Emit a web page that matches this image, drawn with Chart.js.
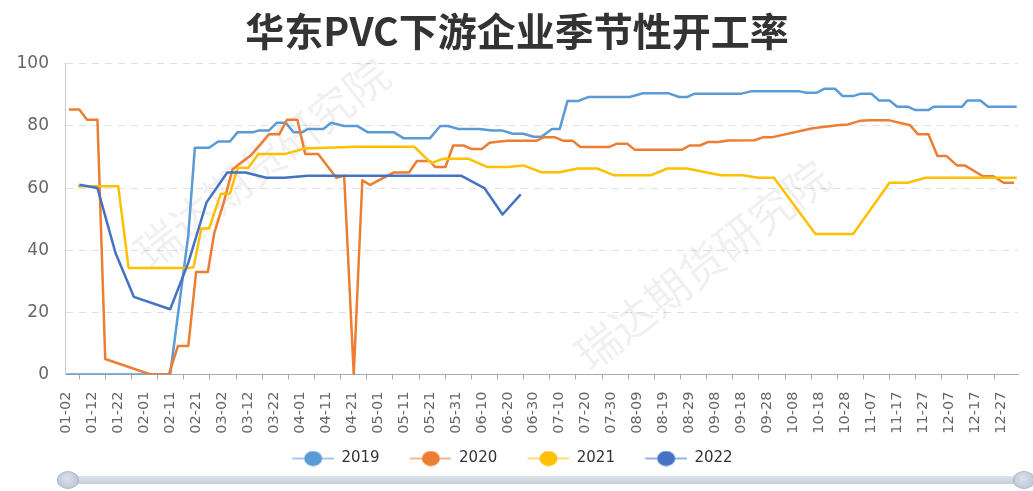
<!DOCTYPE html>
<html>
<head>
<meta charset="utf-8">
<title>华东PVC下游企业季节性开工率</title>
<script src="https://cdn.jsdelivr.net/npm/chart.js@4.4.0/dist/chart.umd.min.js"></script>
<style>
  body { margin: 0; background: #fff; }
  #wrap { position: relative; width: 1033px; height: 491px; }
  .bar { position: absolute; left: 70px; top: 476px; width: 955px; height: 8px; border-radius: 4px; background: linear-gradient(#dfe4ec, #c5cedb); }
  .handle { position: absolute; top: 471px; width: 22px; height: 18px; border-radius: 50%; box-sizing: border-box;
            background: radial-gradient(circle at 45% 40%, #dbe1ea, #b4bfcf); border: 1px solid #a9b5c6; }
</style>
</head>
<body>
<div id="wrap">
  <canvas id="pvcChart" width="1033" height="491"></canvas>
  <div class="bar"></div>
  <div class="handle" style="left:57px"></div>
  <div class="handle" style="left:1013px"></div>
</div>
<script>
// x values are day offsets counted from 01-02 (one label every 10 days)
const tickLabels = ['01-02', '01-12', '01-22', '02-01', '02-11', '02-21', '03-02', '03-12', '03-22',
    '04-01', '04-11', '04-21', '05-01', '05-11', '05-21', '05-31', '06-10', '06-20', '06-30',
    '07-10', '07-20', '07-30', '08-09', '08-19', '08-29', '09-08', '09-18', '09-28', '10-08',
    '10-18', '10-28', '11-07', '11-17', '11-27', '12-07', '12-17', '12-27'];

const days2019 = [0, 40, 47, 49.5, 55, 58.5, 63, 66, 72, 74, 78, 81, 84.5, 87.5, 91, 93, 99, 102, 107, 112,
    116, 126, 130, 140, 144, 147, 151, 159, 164, 168, 172, 176, 180, 183, 187, 190, 193, 197, 201, 217,
    222, 232, 236, 239, 242, 260, 264, 282, 285, 289, 292, 296, 299, 303, 306, 310, 313, 317, 320, 324,
    327, 332, 334, 345, 347, 352, 355, 366];
const rate2019 = [0, 0, 45, 73, 73, 75, 75, 78, 78, 78.5, 78.5, 81, 81, 78, 78, 79, 79, 81, 80, 80,
    78, 78, 76, 76, 80, 80, 79, 79, 78.5, 78.5, 77.5, 77.5, 76.5, 76.5, 79, 79, 88, 88, 89.3, 89.3,
    90.5, 90.5, 89.3, 89.3, 90.4, 90.4, 91.2, 91.2, 90.7, 90.7, 92, 92, 89.6, 89.6, 90.4, 90.4, 88.2, 88.2, 86.2, 86.2,
    85.1, 85.1, 86.2, 86.2, 88.2, 88.2, 86.2, 86.2];

const days2020 = [1, 5, 8, 12, 15, 32.5, 39.5, 43, 47, 50, 54.5, 57, 60.5, 64, 67, 71, 75, 78, 82, 85,
    89, 92, 97, 104, 107, 110.7, 114, 117, 126, 132, 135, 140, 142, 146, 149, 153, 156, 160, 163, 167,
    170, 181, 184, 188, 191.5, 195, 198, 209, 212, 216, 219, 237, 240, 244, 247, 251, 255, 265, 268.5, 272,
    287, 289, 297, 301, 306, 309, 317, 325, 328, 332, 335.5, 339, 343, 346, 353, 357, 361, 365];
const rate2020 = [85.3, 85.3, 82, 82, 5, 0, 0, 9.2, 9.2, 33, 33, 45.6, 55, 66, 68, 70.5, 74.3, 77.3, 77.3, 82,
    82, 71, 71, 63.3, 64, 0, 62.5, 61, 65, 65, 68.7, 68.7, 66.8, 66.8, 73.7, 73.7, 72.6, 72.6, 74.6, 75,
    75.2, 75.2, 76.4, 76.4, 75.2, 75.2, 73.2, 73.2, 74.3, 74.3, 72.3, 72.3, 73.7, 73.7, 74.8, 74.8, 75.3, 75.4, 76.4, 76.4,
    79.2, 79.4, 80.2, 80.5, 81.7, 81.8, 81.8, 80.2, 77.3, 77.3, 70.3, 70.3, 67.3, 67.3, 63.8, 63.8, 61.7, 61.7];

const days2021 = [4.5, 20, 24, 47, 49, 52, 55, 59.5, 63, 66, 70, 74, 84.5, 91.5, 112, 134, 140.5, 145, 155, 162,
    170, 176, 183, 190, 197, 204.5, 211, 225, 231.5, 239, 252, 260.5, 266.5, 272.5, 288.5, 303, 317, 324, 331, 366];
const rate2021 = [60.6, 60.6, 34.3, 34.3, 34.5, 47, 47, 58.2, 58.2, 66.5, 66.5, 71, 71, 72.7, 73.3, 73.3, 68, 69.4, 69.4, 66.8,
    66.8, 67.3, 65.1, 65.1, 66.3, 66.3, 64.1, 64.1, 66.3, 66.3, 64.1, 64.1, 63.3, 63.3, 45.2, 45.2, 61.7, 61.7, 63.3, 63.3];

const days2022 = [5, 12, 19, 26, 40, 47, 54, 62, 69, 77, 84, 93, 152, 161, 168, 175];
const rate2022 = [61.1, 60, 39, 25, 21, 36, 55.4, 65, 65, 63.3, 63.3, 64, 64, 60, 51.5, 58];

const seriesNames = ['2019', '2020', '2021', '2022'];
const seriesColors = ['#5b9bd5', '#ed7d31', '#ffc000', '#4472c4'];
const seriesData = [[days2019, rate2019], [days2020, rate2020], [days2021, rate2021], [days2022, rate2022]];

// legend icon: faded line with a filled dot, left margin widens the gap to the previous item
const iconMargin = 16.5;
function makeIcon(color) {
    const c = document.createElement('canvas');
    c.width = 42 + iconMargin; c.height = 16;
    const g = c.getContext('2d');
    g.globalAlpha = 0.55;
    g.strokeStyle = color; g.lineWidth = 2;
    g.beginPath(); g.moveTo(iconMargin, 8); g.lineTo(c.width, 8); g.stroke();
    g.globalAlpha = 1;
    g.fillStyle = color;
    g.beginPath(); g.ellipse(iconMargin + 21, 8, 9, 7.5, 0, 0, Math.PI * 2); g.fill();
    return c;
}
const legendIcons = seriesColors.map(makeIcon);

const watermark = {
    id: 'watermark',
    afterLayout(chart) {
        // pull the legend row a little to the left, like the original
        chart.legend.left -= 13;
        chart.legend.right -= 13;
    },
    beforeDatasetsDraw(chart) {
        const ctx = chart.ctx;
        ctx.save();
        ctx.font = '44px "Noto Sans CJK SC"';
        ctx.fillStyle = 'rgba(0,0,0,0.06)';
        ctx.textAlign = 'center';
        ctx.textBaseline = 'middle';
        [[262, 163], [702, 265]].forEach(([x, y]) => {
            ctx.save();
            ctx.translate(x, y);
            ctx.rotate(-38 * Math.PI / 180);
            ctx.fillText('瑞达期货研究院', 0, 0);
            ctx.restore();
        });
        ctx.restore();
    }
};

const xMin = -0.5, xMax = 366.5;

new Chart(document.getElementById('pvcChart').getContext('2d'), {
    type: 'line',
    data: {
        datasets: seriesNames.map((name, i) => ({
            label: name,
            data: seriesData[i][0].map((d, j) => ({ x: d, y: seriesData[i][1][j] })),
            borderColor: seriesColors[i],
            backgroundColor: seriesColors[i],
            borderWidth: 2.5,
            borderJoinStyle: 'round',
            pointRadius: 0,
            tension: 0,
            order: 4 - i
        }))
    },
    options: {
        responsive: false,
        animation: false,
        events: [],
        layout: { padding: { left: 16, right: 15, top: 0, bottom: 15 } },
        plugins: {
            title: {
                display: true,
                text: '华东PVC下游企业季节性开工率',
                color: '#333',
                font: { family: '"Noto Sans CJK SC"', size: 39, weight: 'bold' },
                padding: { top: 8, bottom: 9 }
            },
            legend: {
                position: 'bottom',
                labels: {
                    usePointStyle: true,
                    pointStyleWidth: 42 + iconMargin,
                    padding: 13.5,
                    color: '#333',
                    font: { family: '"DejaVu Sans"', size: 15 },
                    sort: (a, b) => a.datasetIndex - b.datasetIndex,
                    generateLabels(chart) {
                        const items = Chart.defaults.plugins.legend.labels.generateLabels(chart);
                        items.forEach(it => { it.pointStyle = legendIcons[it.datasetIndex]; });
                        return items;
                    }
                }
            },
            tooltip: { enabled: false }
        },
        scales: {
            xt: {
                type: 'linear', position: 'bottom', weight: 0,
                min: xMin, max: xMax,
                afterBuildTicks(scale) {
                    scale.ticks = tickLabels.slice(1).map((_, i) => ({ value: 5 + i * 10.066 }));
                },
                ticks: { display: false },
                grid: { drawOnChartArea: false, drawTicks: true, tickLength: 5, tickColor: '#aaa' },
                border: { color: '#aaa', width: 1 }
            },
            x: {
                type: 'linear', position: 'bottom', weight: 1,
                min: xMin, max: xMax,
                afterBuildTicks(scale) {
                    scale.ticks = tickLabels.map((_, i) => ({ value: i * 10 }));
                },
                afterFit(scale) { scale.height = 58; },
                ticks: {
                    autoSkip: false, minRotation: 90, maxRotation: 90, padding: 4,
                    color: '#666',
                    font: { family: '"DejaVu Sans"', size: 14.5 },
                    callback: (v, i) => tickLabels[i]
                },
                grid: { display: false },
                border: { display: false }
            },
            y: {
                min: 0, max: 100,
                afterFit(scale) { scale.width = 49; },
                ticks: { stepSize: 20, padding: 16, color: '#666', font: { family: '"DejaVu Sans"', size: 17 } },
                grid: { color: '#e0e0e0', drawTicks: false },
                border: { color: '#ccc', dash: [7, 6] }
            }
        }
    },
    plugins: [watermark]
});
</script>
</body>
</html>
